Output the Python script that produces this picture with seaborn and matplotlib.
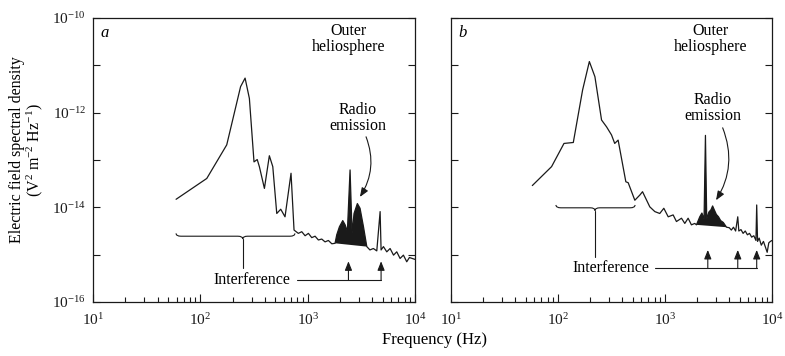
import numpy as np
import matplotlib
matplotlib.use("Agg")
import matplotlib.pyplot as plt
import seaborn as sns
from matplotlib.path import Path
from matplotlib.patches import PathPatch
from matplotlib.ticker import FixedLocator, NullLocator, FixedFormatter

# log10 of frequency (Hz) and log10 of spectral density
a_logf = [1.774, 2.06, 2.246, 2.375, 2.417, 2.457, 2.50, 2.53, 2.55, 2.597, 2.643, 2.675,
          2.712, 2.749, 2.789, 2.845, 2.873, 2.913, 2.945, 2.976, 3.007, 3.038, 3.069, 3.10,
          3.131, 3.162, 3.193, 3.225, 3.255, 3.271, 3.296, 3.327, 3.349, 3.37, 3.395, 3.414,
          3.432, 3.463, 3.488, 3.52, 3.551, 3.58, 3.612, 3.644, 3.675, 3.684, 3.706, 3.737,
          3.768, 3.80, 3.83, 3.861, 3.892, 3.923, 3.948, 4.0]
a_logS = [-13.83, -13.39, -12.68, -11.45, -11.27, -11.70, -13.04, -12.99, -13.14, -13.60, -12.91, -13.14,
          -14.13, -14.04, -14.20, -13.28, -14.48, -14.55, -14.515, -14.60, -14.55, -14.64, -14.61, -14.69,
          -14.67, -14.73, -14.70, -14.77, -14.76, -14.58, -14.41, -14.28, -14.37, -14.51, -13.21, -14.55,
          -14.13, -13.92, -14.02, -14.41, -14.83, -14.90, -14.87, -14.92, -14.09, -14.90, -14.83, -14.94,
          -14.87, -15.01, -14.94, -15.08, -15.01, -15.15, -15.06, -15.10]
a_fill = (28, 40)  # index range of the radio emission shading

b_logf = [1.76, 1.94, 2.056, 2.143, 2.23, 2.293, 2.345, 2.407, 2.454, 2.50, 2.53, 2.562,
          2.634, 2.656, 2.718, 2.765, 2.79, 2.858, 2.905, 2.951, 2.989, 3.03, 3.076, 3.107,
          3.154, 3.185, 3.216, 3.247, 3.278, 3.294, 3.325, 3.345, 3.365, 3.378, 3.39, 3.41,
          3.43, 3.445, 3.46, 3.48, 3.50, 3.52, 3.545, 3.575, 3.60, 3.62, 3.64, 3.66,
          3.68, 3.69, 3.71, 3.73, 3.75, 3.77, 3.79, 3.81, 3.83, 3.85, 3.857, 3.865,
          3.88, 3.90, 3.92, 3.94, 3.955, 3.97, 3.985, 4.0]
b_logS = [-13.54, -13.14, -12.65, -12.63, -11.52, -10.92, -11.24, -12.155, -12.30, -12.47, -12.65, -12.58,
          -13.46, -13.48, -13.85, -13.74, -13.67, -13.99, -14.09, -14.13, -14.02, -14.20, -14.16, -14.30,
          -14.23, -14.34, -14.23, -14.37, -14.34, -14.37, -14.20, -14.12, -14.25, -12.48, -14.25, -14.10,
          -14.05, -13.97, -14.05, -14.15, -14.20, -14.28, -14.32, -14.42, -14.43, -14.48, -14.42, -14.50,
          -14.20, -14.50, -14.47, -14.55, -14.50, -14.58, -14.55, -14.63, -14.60, -14.70, -13.95, -14.72,
          -14.65, -14.80, -14.72, -14.85, -14.95, -14.75, -14.72, -14.70]
b_fill = (29, 43)

a_interf = [3.38, 3.684]
b_interf = [3.40, 3.68, 3.857]

y_labels = [r'$\mathregular{10^{-16}}$', '', r'$\mathregular{10^{-14}}$', '',
            r'$\mathregular{10^{-12}}$', '', r'$\mathregular{10^{-10}}$']
x_labels = [r'$\mathregular{10^{1}}$', r'$\mathregular{10^{2}}$',
            r'$\mathregular{10^{3}}$', r'$\mathregular{10^{4}}$']

sns.set_theme(style="ticks")
plt.rcParams['font.family'] = ['Liberation Serif', 'DejaVu Serif']
plt.rcParams['mathtext.fontset'] = 'custom'
plt.rcParams['mathtext.rm'] = 'Liberation Serif'
plt.rcParams['mathtext.it'] = 'Liberation Serif:italic'
plt.rcParams['axes.edgecolor'] = 'black'
plt.rcParams['text.color'] = 'black'
plt.rcParams['xtick.color'] = 'black'
plt.rcParams['ytick.color'] = 'black'

fig = plt.figure(figsize=(7.85, 3.56), dpi=100)
W, H = 785, 356
ax_a = fig.add_axes([93 / W, 1 - 302 / H, 322 / W, 284 / H])
ax_b = fig.add_axes([451 / W, 1 - 302 / H, 321 / W, 284 / H])


def p10(v):
    return np.power(10.0, np.asarray(v, dtype=float))


def brace(ax, x0, x1, xm, y, stem_end, d=0.045, h=0.06):
    verts = [(x0, y + h), (x0, y), (x0 + d, y), (xm - d, y), (xm, y), (xm, y - h),
             (xm, y), (xm + d, y), (x1 - d, y), (x1, y), (x1, y + h)]
    codes = [Path.MOVETO, Path.CURVE3, Path.CURVE3, Path.LINETO, Path.CURVE3, Path.CURVE3,
             Path.CURVE3, Path.CURVE3, Path.LINETO, Path.CURVE3, Path.CURVE3]
    verts = [(10 ** vx, 10 ** vy) for vx, vy in verts]
    ax.add_patch(PathPatch(Path(verts, codes), fill=False, lw=0.8, color='k'))
    ax.plot(p10([xm, xm]), p10([y - h, stem_end]), color='k', lw=0.8)


def panel(ax, logf, logS, fill, letter, interf, cfg):
    ax.set_xscale('log')
    ax.set_yscale('log')
    f = p10(logf)
    s = p10(logS)
    sns.lineplot(x=f, y=s, ax=ax, color='k', lw=0.9, sort=False, estimator=None)
    i0, i1 = fill
    ax.fill(f[i0:i1 + 1], s[i0:i1 + 1], color='k', lw=0)

    ax.set_xlim(10, 1e4)
    ax.set_ylim(1e-16, 1e-10)
    ax.yaxis.set_major_locator(FixedLocator(p10(np.arange(-16, -9))))
    ax.yaxis.set_minor_locator(NullLocator())
    ax.yaxis.set_major_formatter(FixedFormatter(y_labels))
    ax.xaxis.set_major_locator(FixedLocator(p10([1, 2, 3, 4])))
    ax.xaxis.set_major_formatter(FixedFormatter(x_labels))
    ax.tick_params(which='both', direction='in', left=True, right=True, top=False, bottom=True,
                   color='k', labelsize=11, labelcolor='k')
    ax.tick_params(which='major', length=6, width=0.8, pad=7)
    ax.tick_params(axis='y', which='major', length=5, pad=5)
    ax.tick_params(which='minor', length=3.5, width=0.8)
    for sp in ax.spines.values():
        sp.set_linewidth(0.9)
        sp.set_color('k')
    ax.set_xlabel('')
    ax.set_ylabel('')

    ax.text(p10(1.11), p10(-10.32), letter, fontsize=12, style='italic', ha='center', va='center')
    ax.text(p10(cfg['outer'][0]), p10(cfg['outer'][1]), 'Outer\nheliosphere', fontsize=11.5,
            ha='center', va='center', linespacing=1.0)
    ax.text(p10(cfg['radio'][0]), p10(cfg['radio'][1]), 'Radio\nemission', fontsize=11.5,
            ha='center', va='center', linespacing=1.0)
    ax.annotate('', xy=p10(cfg['arrow_to']), xytext=p10(cfg['arrow_from']),
                arrowprops=dict(arrowstyle='-|>,head_length=0.45,head_width=0.18', color='k', lw=0.8,
                                shrinkA=0, shrinkB=0, connectionstyle='arc3,rad=-0.25'))

    bx0, bx1, bxm, by, bstem = cfg['brace']
    brace(ax, bx0, bx1, bxm, by, bstem)

    tx, ty, lx0, tip = cfg['interf']
    ax.text(p10(tx), p10(ty), 'Interference', fontsize=11.5, ha='center', va='center')
    ax.plot(p10([lx0, interf[-1]]), p10([ty, ty]), color='k', lw=0.8)
    for xi in interf:
        ax.annotate('', xy=(p10(xi), p10(tip)), xytext=(p10(xi), p10(ty)),
                    arrowprops=dict(arrowstyle='-|>,head_length=0.45,head_width=0.18', color='k',
                                    lw=0.8, shrinkA=0, shrinkB=0))


panel(ax_a, a_logf, a_logS, a_fill, 'a', a_interf,
      dict(outer=(3.385, -10.44), radio=(3.469, -12.11),
           arrow_from=(3.544, -12.51), arrow_to=(3.487, -13.78),
           brace=(1.774, 2.881, 2.395, -14.61, -15.28),
           interf=(2.485, -15.54, 2.90, -15.14)))
panel(ax_b, b_logf, b_logS, b_fill, 'b', b_interf,
      dict(outer=(3.427, -10.44), radio=(3.446, -11.90),
           arrow_from=(3.539, -12.32), arrow_to=(3.477, -13.85),
           brace=(1.981, 2.72, 2.346, -14.01, -15.05),
           interf=(2.495, -15.28, 2.907, -14.90)))
ax_b.tick_params(labelleft=False)

fig.text(17 / W, 1 - 150 / H, 'Electric field spectral density', rotation=90,
         ha='center', va='center', fontsize=11.5)
fig.text(35 / W, 1 - 150 / H, r'(V$^{2}$ m$^{-2}$ Hz$^{-1}$)', rotation=90,
         ha='center', va='center', fontsize=11.5)
fig.text(435 / W, 1 - 340 / H, 'Frequency (Hz)', ha='center', va='center', fontsize=12)

fig.savefig('out.png', dpi=100)
